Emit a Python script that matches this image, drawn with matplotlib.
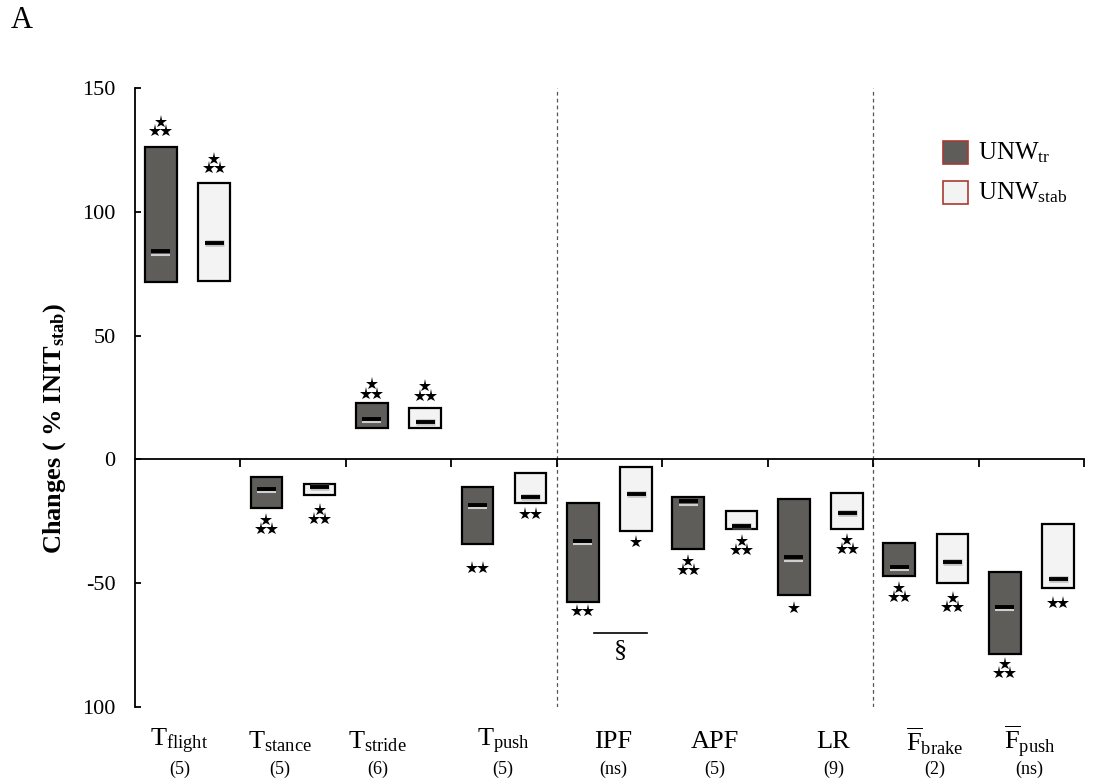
import matplotlib
matplotlib.use("Agg")
import matplotlib.pyplot as plt
import matplotlib.transforms as mtransforms
from matplotlib.patches import Rectangle

plt.rcParams["font.family"] = ["Liberation Serif", "DejaVu Serif"]
plt.rcParams["mathtext.fontset"] = "custom"
plt.rcParams["mathtext.rm"] = "Liberation Serif"
plt.rcParams["mathtext.it"] = "Liberation Serif:italic"
plt.rcParams["mathtext.bf"] = "Liberation Serif:bold"

# ---- data -------------------------------------------------------------
categories = [r"$\mathrm{T}_{\mathrm{flight}}$", r"$\mathrm{T}_{\mathrm{stance}}$",
              r"$\mathrm{T}_{\mathrm{stride}}$", r"$\mathrm{T}_{\mathrm{push}}$",
              "IPF", "APF", "LR",
              r"$\overline{\mathrm{F}}_{\mathrm{brake}}$",
              r"$\overline{\mathrm{F}}_{\mathrm{push}}$"]
n_labels = ["(5)", "(5)", "(6)", "(5)", "(ns)", "(5)", "(9)", "(2)", "(ns)"]

tr_low = [71.5, -19.8, 12.5, -34.3, -57.7, -36.3, -54.8, -47.1, -78.4]
tr_high = [126.0, -7.3, 22.6, -11.3, -17.7, -15.0, -16.0, -33.6, -45.4]
tr_med = [84.0, -12.0, 16.5, -18.3, -33.0, -17.0, -39.5, -43.5, -59.5]

stab_low = [72.0, -14.5, 12.5, -17.7, -29.0, -28.2, -28.2, -50.0, -52.1]
stab_high = [111.7, -10.0, 20.6, -5.6, -3.2, -21.0, -13.6, -30.2, -26.2]
stab_med = [87.5, -11.3, 15.0, -15.2, -14.0, -27.0, -21.8, -41.5, -48.3]

# significance stars: count and vertical anchor
tr_stars = [3, 3, 3, 2, 2, 3, 1, 3, 3]
tr_star_y = [132.7, -28.2, 26.6, -44.0, -61.3, -44.8, -60.0, -55.6, -86.3]
stab_stars = [3, 3, 3, 2, 1, 3, 3, 3, 2]
stab_star_y = [117.7, -24.2, 25.8, -22.2, -33.5, -36.7, -36.3, -59.7, -58.0]

yticks = [150, 100, 50, 0, -50, -100]
ytick_labels = ["150", "100", "50", "0", "-50", "100"]

# ---- style ------------------------------------------------------------
dark = "#5f5d5a"
light = "#f3f3f3"
legend_edge = "#a83a32"
bar_w = 0.30
off_tr, off_stab = -0.255, 0.25
label_shift = [-0.08, -0.13, -0.2, -0.01, 0.03, 0.0, 0.12, 0.08, -0.02]

fig = plt.figure(figsize=(10.95, 7.84), dpi=100)
ax = fig.add_axes([135 / 1095, 1 - 707 / 784, 960 / 1095, 619 / 784])
ax.set_xlim(-0.5, 8.6)
ax.set_ylim(-100, 150)

xs = list(range(len(categories)))
x_tr = [x + off_tr for x in xs]
x_stab = [x + off_stab for x in xs]

ax.bar(x_tr, [h - l for h, l in zip(tr_high, tr_low)], bottom=tr_low,
       width=bar_w, color=dark, edgecolor="black", linewidth=1.6, zorder=3)
ax.bar(x_stab, [h - l for h, l in zip(stab_high, stab_low)], bottom=stab_low,
       width=bar_w, color=light, edgecolor="black", linewidth=1.6, zorder=3)

# median marks
mw = 0.09
below = mtransforms.offset_copy(ax.transData, fig=fig, x=0, y=-2.4, units="points")
for x, m in zip(x_tr, tr_med):
    ax.plot([x - mw, x + mw], [m, m], color="#cfcfcf", lw=1.5,
            transform=below, zorder=4, solid_capstyle="butt")
    ax.plot([x - mw, x + mw], [m, m], color="black", lw=2.8, zorder=5,
            solid_capstyle="butt")
for x, m in zip(x_stab, stab_med):
    ax.plot([x - mw, x + mw], [m, m], color="#8a8a8a", lw=4.8, alpha=0.45,
            zorder=4, solid_capstyle="butt")
    ax.plot([x - mw, x + mw], [m, m], color="black", lw=2.8, zorder=5,
            solid_capstyle="butt")


def draw_stars(x, y, count):
    ms = 9.5
    if count == 1:
        pts = [(0, 0)]
    elif count == 2:
        pts = [(-3.9, 0), (3.9, 0)]
    else:
        pts = [(-3.9, 0), (3.9, 0), (0, 6.6)]
    for dx, dy in pts:
        tr = mtransforms.offset_copy(ax.transData, fig=fig, x=dx, y=dy, units="points")
        ax.plot([x], [y], marker="*", ms=ms, color="black", mec="black",
                mew=0, transform=tr, clip_on=False, zorder=6)


for x, c, y in zip(x_tr, tr_stars, tr_star_y):
    draw_stars(x, y, c)
for x, c, y in zip(x_stab, stab_stars, stab_star_y):
    draw_stars(x, y, c)

# group separators
for xb in (3.5, 6.5):
    ax.plot([xb, xb], [-100, 150], color="#555555", lw=0.9,
            linestyle=(0, (3, 2.5)), zorder=1)

# significance bracket between IPF conditions
ax.plot([3.85, 4.35], [-70.2, -70.2], color="black", lw=1.2, zorder=3)
ax.text(4.1, -77, "§", ha="center", va="center", fontsize=19)

# axes styling
for side in ("top", "right"):
    ax.spines[side].set_visible(False)
ax.spines["bottom"].set_position(("data", 0))
ax.spines["bottom"].set_bounds(-0.5, 8.5)
ax.spines["bottom"].set_linewidth(1.3)
ax.spines["left"].set_linewidth(1.3)
ax.set_xticks([b + 0.5 for b in range(9)])
ax.set_xticklabels([])
ax.tick_params(axis="x", direction="out", length=5.5, width=1.3)
ax.set_yticks(yticks)
ax.set_yticklabels(ytick_labels, fontsize=16)
ax.tick_params(axis="y", direction="in", length=4, width=1.3, pad=14)

# category labels below the plot
for x, lab, nl, sh in zip(xs, categories, n_labels, label_shift):
    ax.text(x + sh, -114, lab, ha="center", va="center", fontsize=19,
            clip_on=False)
    ax.text(x + sh, -125, nl, ha="center", va="center", fontsize=13,
            clip_on=False)

# legend
legend_items = [(dark, r"UNW$_{\mathrm{tr}}$", 141), (light, r"UNW$_{\mathrm{stab}}$", 181)]
for col, txt, ytop in legend_items:
    fig.patches.append(Rectangle((943 / 1095, 1 - (ytop + 23) / 784), 25 / 1095, 23 / 784,
                                 transform=fig.transFigure, facecolor=col,
                                 edgecolor=legend_edge, linewidth=1.2))
    fig.text(978 / 1095, 1 - (ytop + 18) / 784, txt, fontsize=18,
             ha="left", va="baseline")

fig.text(55 / 1095, 1 - 428 / 784, r"$\mathbf{Changes\ (\ \%\ INIT_{stab})}$",
         rotation=90, ha="center", va="center", fontsize=19)
fig.text(22 / 1095, 1 - 21 / 784, "A", ha="center", va="center", fontsize=22)

fig.savefig("out.png", dpi=100)
